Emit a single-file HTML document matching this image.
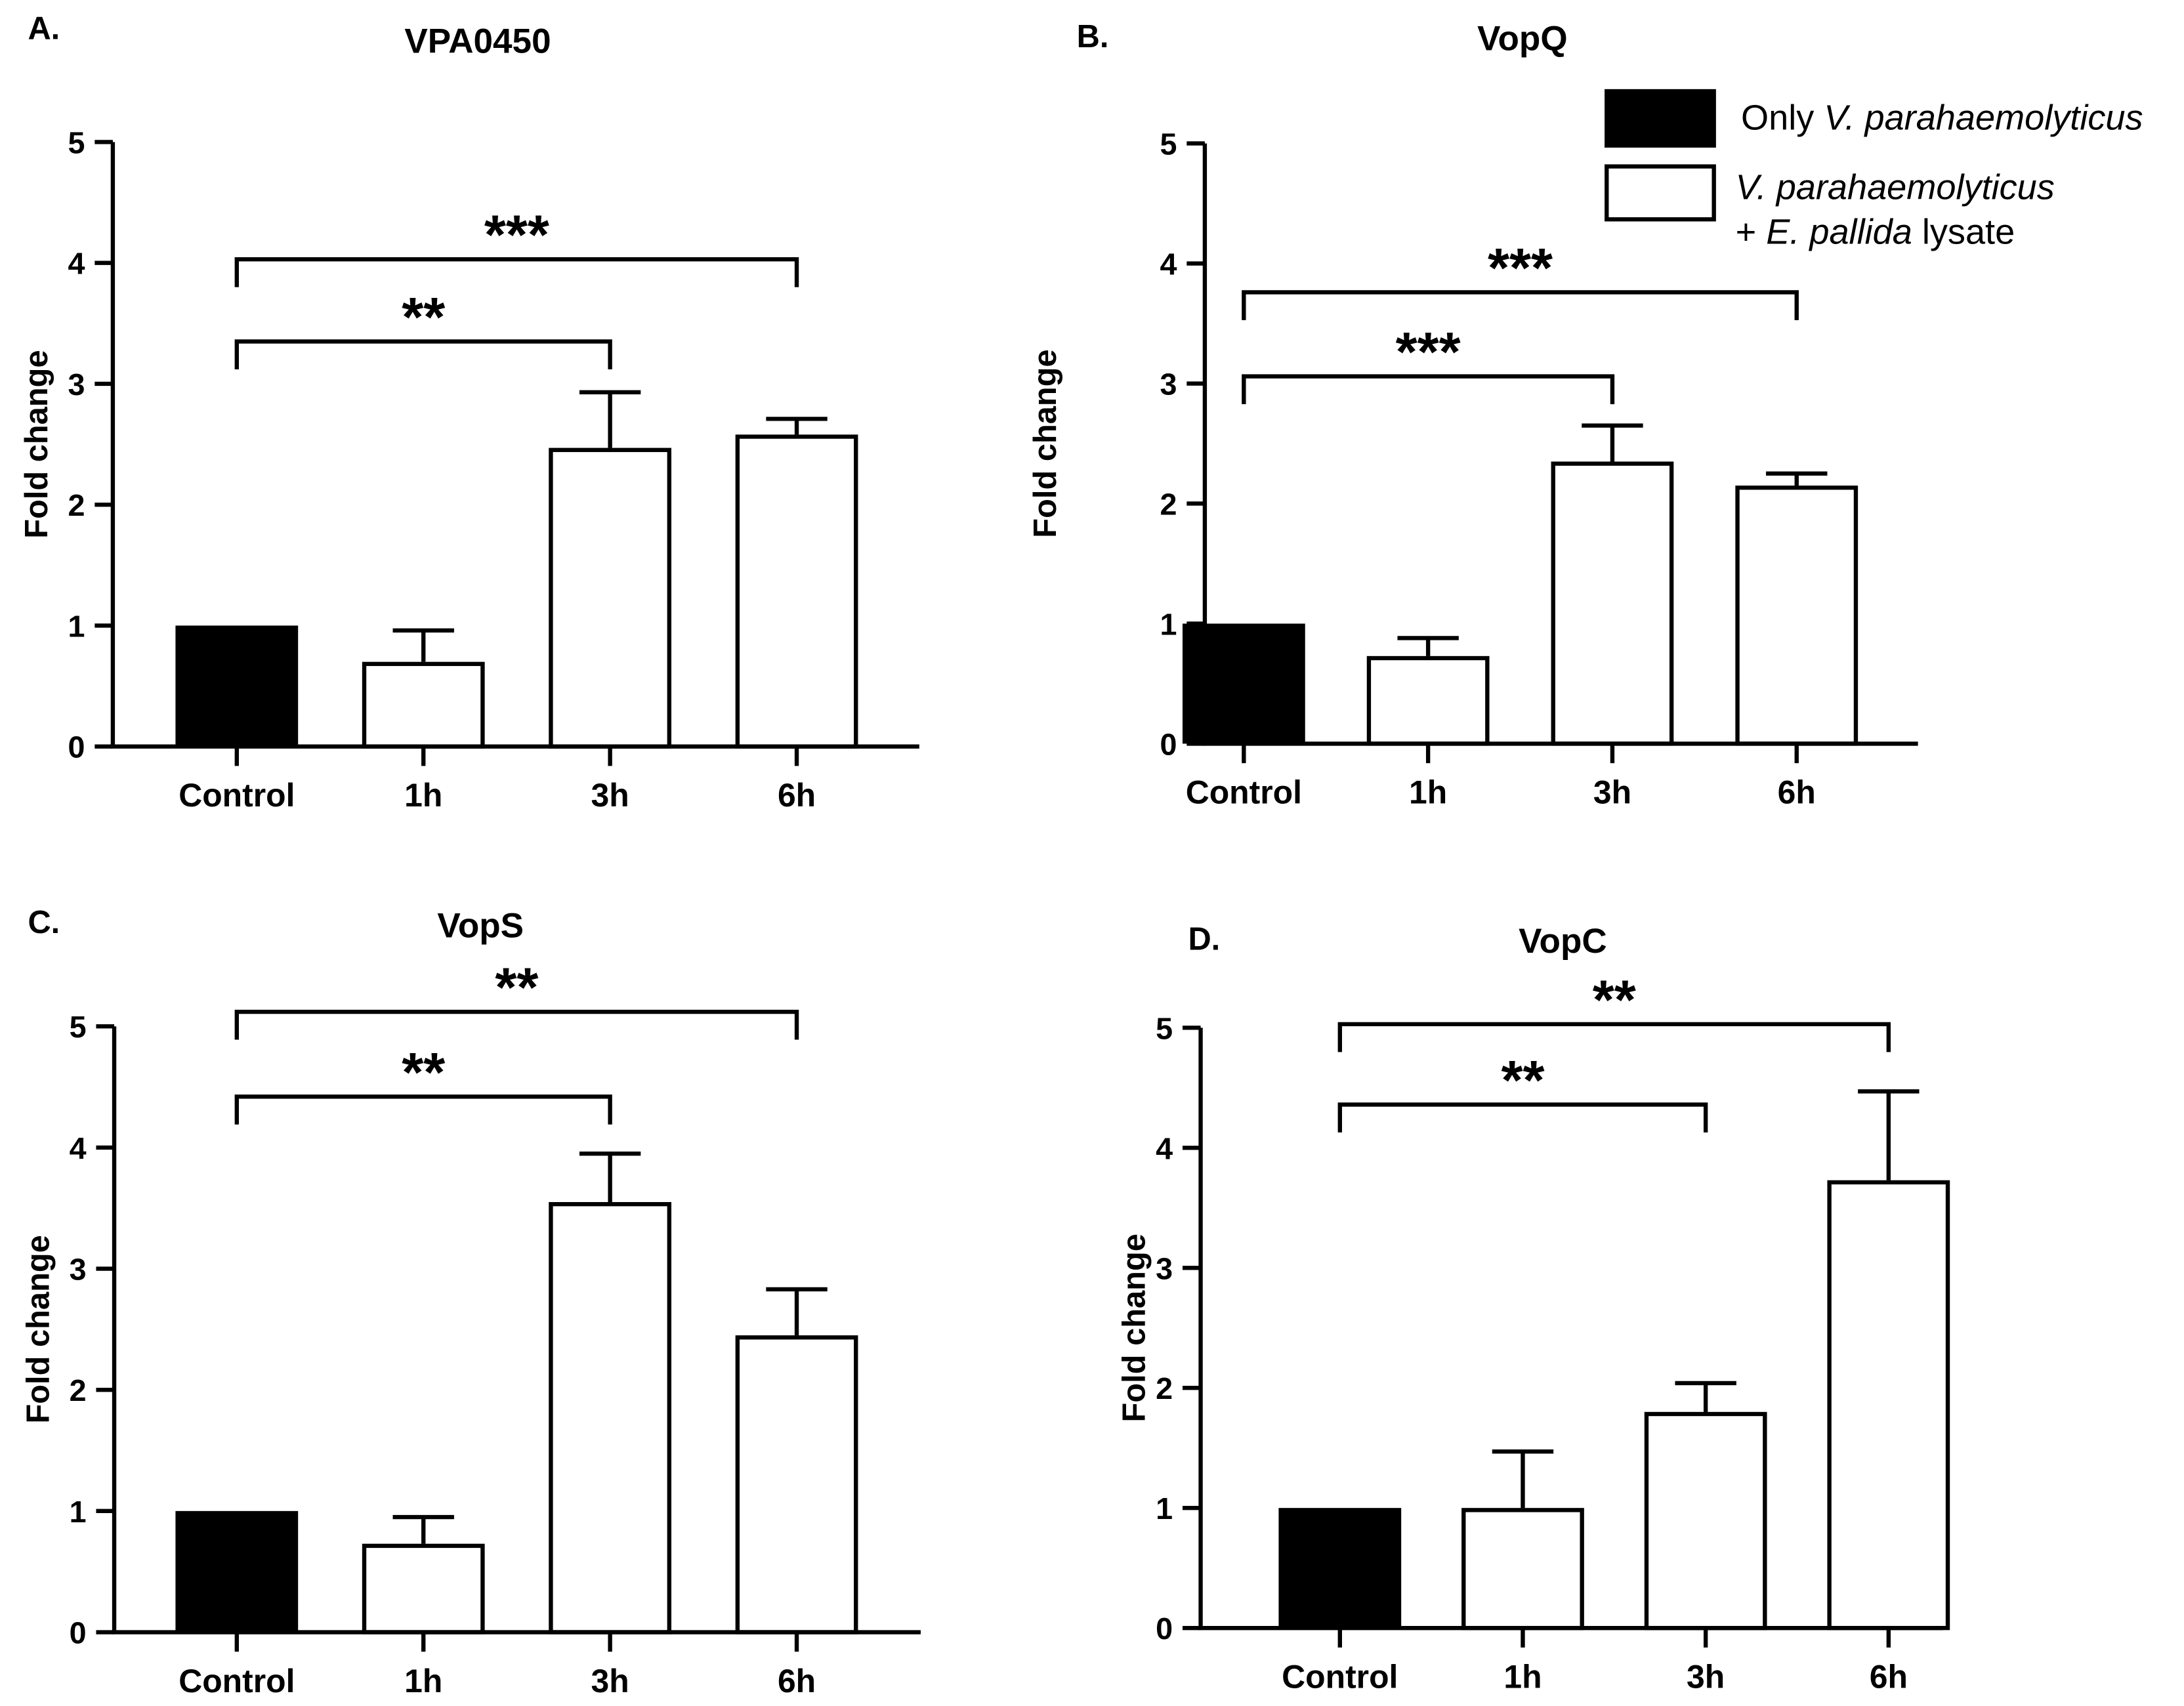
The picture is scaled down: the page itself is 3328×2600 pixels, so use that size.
<!DOCTYPE html>
<html><head><meta charset="utf-8"><style>
html,body{margin:0;padding:0;background:#fff;}
svg{display:block;font-family:"Liberation Sans",Arial,sans-serif;}
</style></head><body>
<svg id="fig" width="3328" height="2600" viewBox="0 0 1568 1225" xmlns="http://www.w3.org/2000/svg">
<rect width="1568" height="1225" fill="#fff"/>
<g>
 <rect x="1152" y="64" width="80" height="42" fill="#000"/>
 <text x="1250" y="93" font-size="25.5">Only <tspan font-style="italic">V. parahaemolyticus</tspan></text>
 <rect x="1153.5" y="119.5" width="77" height="38" fill="#fff" stroke="#000" stroke-width="3"/>
 <text x="1246" y="143" font-size="25.5" font-style="italic">V. parahaemolyticus</text>
 <text x="1246" y="175" font-size="25.5">+ <tspan font-style="italic">E. pallida</tspan> lysate</text>
</g>
</svg>
<script>
const categories = ["Control","1h","3h","6h"];
const titles = ["VPA0450","VopQ","VopS","VopC"];
const letters = ["A.","B.","C.","D."];
const yTicks = [0,1,2,3,4,5];
const meansA = [1.0,0.70,2.47,2.58];
const errA   = [0,0.96,2.93,2.71];
const meansB = [1.0,0.73,2.35,2.15];
const errB   = [0,0.88,2.65,2.25];
const meansC = [1.0,0.73,3.55,2.45];
const errC   = [0,0.95,3.95,2.83];
const meansD = [1.0,1.0,1.80,3.73];
const errD   = [0,1.47,2.04,4.47];
const bracketLevelsA = [4.03,3.35];
const bracketLevelsB = [3.76,3.06];
const bracketLevelsC = [5.12,4.42];
const bracketLevelsD = [5.03,4.36];
const starsA = ["***","**"];
const starsB = ["***","***"];
const starsC = ["**","**"];
const starsD = ["**","**"];

const layouts = [
 {ax:81, y0:536, y5:102, x0:170, dx:134, xend:660, tx:343, ty:38, lx:20, ly:28, ylx:34},
 {ax:865, y0:534, y5:103, x0:893, dx:132.3, xend:1377, tx:1093, ty:36, lx:773, ly:34, ylx:758},
 {ax:82, y0:1172, y5:737, x0:170, dx:134, xend:661, tx:345, ty:673, lx:20, ly:670, ylx:35},
 {ax:862, y0:1169, y5:738, x0:962, dx:131.3, xend:1395, tx:1122, ty:684, lx:853, ly:682, ylx:822}
];
const allMeans=[meansA,meansB,meansC,meansD];
const allErr=[errA,errB,errC,errD];
const allBr=[bracketLevelsA,bracketLevelsB,bracketLevelsC,bracketLevelsD];
const allStars=[starsA,starsB,starsC,starsD];
const bracketTargets=[3,2];
const NS="http://www.w3.org/2000/svg";
const svg=document.getElementById('fig');
function mk(tag,attrs,parent){const e=document.createElementNS(NS,tag);for(const k in attrs)e.setAttribute(k,attrs[k]);parent.appendChild(e);return e;}
const names=["vpa0450","vopq","vops","vopc"];
for(let p=0;p<4;p++){
 const L=layouts[p];
 const yS=v=>L.y0-(L.y0-L.y5)*v/5;
 const xS=i=>L.x0+L.dx*i;
 const g=mk('g',{},svg);
 
 
 let t=mk('text',{x:L.lx,y:L.ly,'font-size':23,'font-weight':'bold'},g);t.textContent=letters[p];
 
 
 t=mk('text',{x:L.tx,y:L.ty,'font-size':25,'font-weight':'bold','text-anchor':'middle'},g);t.textContent=titles[p];
 
 
 t=mk('text',{x:L.ylx,y:(L.y0+L.y5)/2,'font-size':23,'font-weight':'bold','text-anchor':'middle',transform:`rotate(-90 ${L.ylx} ${(L.y0+L.y5)/2})`},g);t.textContent="Fold change";
 
 
 const means=allMeans[p], errs=allErr[p];
 for(let i=0;i<categories.length;i++){
  const cx=xS(i), top=yS(means[i]);
  if(errs[i]>means[i]){
   const e=mk('path',{d:`M${cx},${top} V${yS(errs[i])} M${cx-22},${yS(errs[i])} H${cx+22}`,stroke:'#000','stroke-width':3,fill:'none'},g);
   
   
  }
  const r=mk('rect',{x:cx-44+(i?1.5:0),y:top+(i?1.5:0),width:88-(i?3:0),height:Math.max(0,L.y0-top-(i?1.5:0)),fill:i?'#fff':'#000',stroke:'#000','stroke-width':i?3:0},g);
  
  
  const tk=mk('line',{x1:cx,x2:cx,y1:L.y0,y2:L.y0+14,stroke:'#000','stroke-width':3},g);
  
  
  const lb=mk('text',{x:cx,y:L.y0+43,'font-size':23.5,'font-weight':'bold','text-anchor':'middle'},g);lb.textContent=categories[i];
  
  
 }
 const ax=mk('path',{d:`M${L.ax},${yS(5)} V${L.y0} H${L.xend}`,stroke:'#000','stroke-width':3,fill:'none'},g);
 
 
 for(const v of yTicks){
  const tk=mk('line',{x1:L.ax-13,x2:L.ax,y1:yS(v),y2:yS(v),stroke:'#000','stroke-width':3},g);
  
  
  const lb=mk('text',{x:L.ax-20,y:yS(v)+8,'font-size':22,'font-weight':'bold','text-anchor':'end'},g);lb.textContent=String(v);
  
  
 }
 const br=allBr[p], st=allStars[p];
 for(let b=0;b<2;b++){
  const yb=yS(br[b]), x1=xS(0), x2=xS(bracketTargets[b]);
  const pth=mk('path',{d:`M${x1},${yb+20} V${yb} H${x2} V${yb+20}`,stroke:'#000','stroke-width':3,fill:'none'},g);
  
  
  const s=mk('text',{x:(x1+x2)/2,y:yb-4,'font-size':40,'font-weight':'bold','text-anchor':'middle'},g);s.textContent=st[b];
  
  
 }
}
</script>
</body></html>
